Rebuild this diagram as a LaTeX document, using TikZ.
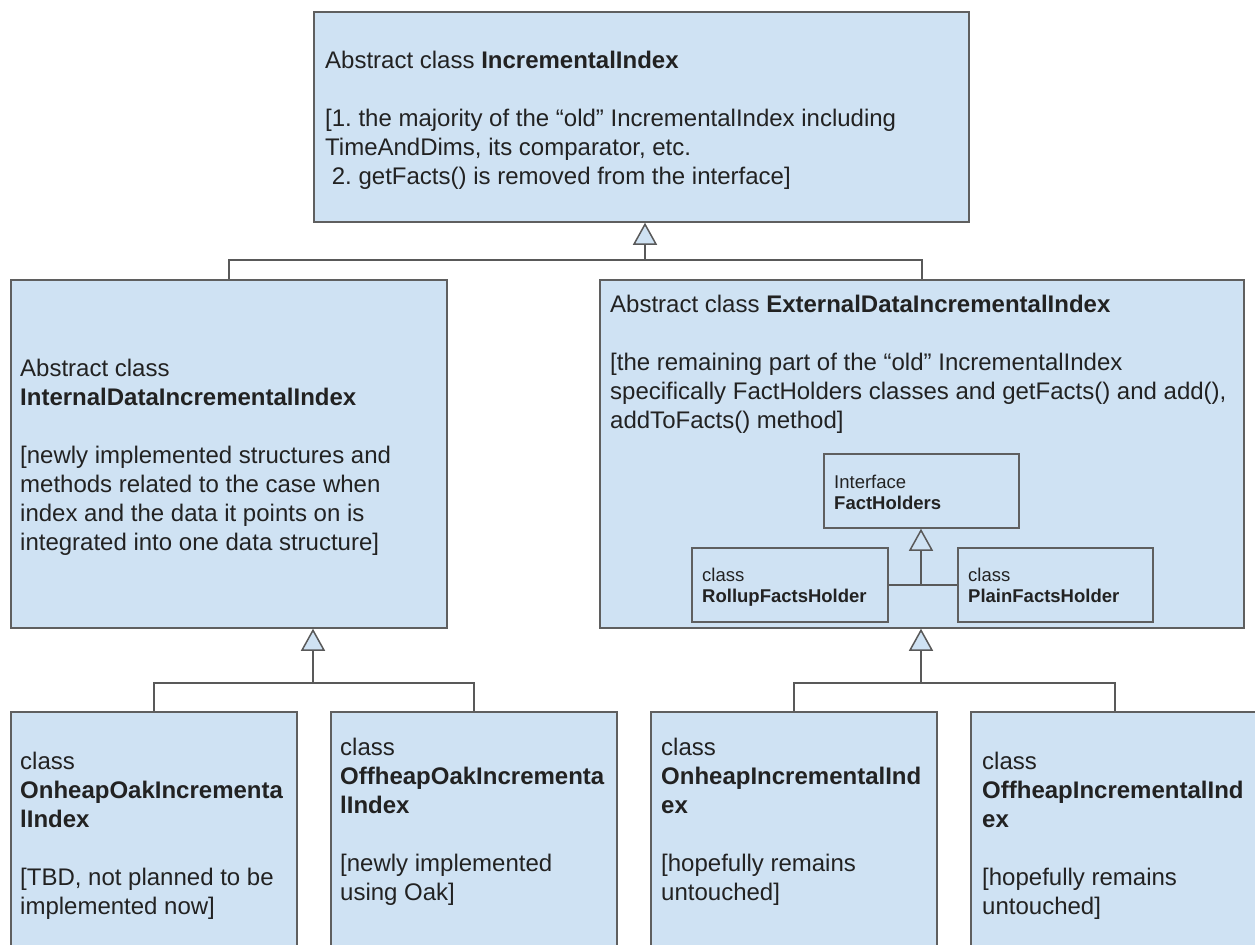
\documentclass[tikz,border=0pt]{standalone}
\usepackage{fontspec}
\setmainfont{Liberation Sans}
\usetikzlibrary{arrows.meta}
\definecolor{boxfill}{HTML}{CFE2F3}
\definecolor{boxline}{HTML}{5F5F5F}
\definecolor{connc}{HTML}{595959}
\definecolor{txtc}{HTML}{222222}
\newcommand{\firststrut}{\rule{0pt}{22bp}}
\newcommand{\smallstrut}{\rule{0pt}{17bp}}
\frenchspacing
\begin{document}
\begin{tikzpicture}[x=1bp,y=-1bp,
  box/.style={draw=boxline, fill=boxfill, line width=1.5bp, inner sep=0pt, rectangle},
  txt/.style={anchor=north west, inner sep=0pt, align=left, text=txtc, font=\fontsize{24bp}{29bp}\selectfont},
  stxt/.style={anchor=north west, inner sep=0pt, align=left, text=txtc, font=\fontsize{18.5bp}{21bp}\selectfont},
  conn/.style={draw=connc, line width=1.5bp},
  inh/.style={conn, -{Triangle[width=24bp,length=22bp,fill=boxfill]}}]
\useasboundingbox (0,0) rectangle (1255,945);
\clip (0,0) rectangle (1255,945);
% boxes
\node[box, minimum width=655bp, minimum height=210bp] (top) at (641.5,117) {};
\node[box, minimum width=436bp, minimum height=348bp] (il) at (229,454) {};
\node[box, minimum width=644bp, minimum height=348bp] (el) at (922,454) {};
\node[box, minimum width=195bp, minimum height=74bp] (fh) at (921.5,491) {};
\node[box, minimum width=196bp, minimum height=74bp] (rf) at (790,585) {};
\node[box, minimum width=195bp, minimum height=74bp] (pf) at (1055.5,585) {};
\node[box, minimum width=286bp, minimum height=268bp] (b1) at (154,846) {};
\node[box, minimum width=286bp, minimum height=268bp] (b2) at (474,846) {};
\node[box, minimum width=286bp, minimum height=268bp] (b3) at (794,846) {};
\node[box, minimum width=288bp, minimum height=268bp] (b4) at (1115,846) {};
% connectors
\coordinate (j0) at (645,260);
\coordinate (j1) at (313,683);
\coordinate (j2) at (921,683);
\coordinate (j3) at (921,585);
\draw[conn] (il.north) |- (j0) -| (el.north);
\draw[inh] (j0) -- (j0 |- top.south);
\draw[conn] (b1.north) |- (j1) -| (b2.north);
\draw[inh] (j1) -- (j1 |- il.south);
\draw[conn] (b3.north) |- (j2) -| (b4.north);
\draw[inh] (j2) -- (j2 |- el.south);
\draw[conn] (rf.east) -- (pf.west);
\draw[inh] (j3) -- (j3 |- fh.south);
% texts
\node[txt] (ttop) at (325,46) {\firststrut Abstract class \textbf{IncrementalIndex}\\ \mbox{}\\ {[}1. the majority of the “old” IncrementalIndex including\\ TimeAndDims, its comparator, etc.\\ \hspace*{6.7bp}2. getFacts() is removed from the interface]};
\node[txt] (til) at (20,354) {\firststrut Abstract class\\ \textbf{InternalDataIncrementalIndex}\\ \mbox{}\\ {[}newly implemented structures and\\ methods related to the case when\\ index and the data it points on is\\ integrated into one data structure]};
\node[txt] (tel) at (610,290) {\firststrut Abstract class \textbf{ExternalDataIncrementalIndex}\\ \mbox{}\\ {[}the remaining part of the “old” IncrementalIndex\\ specifically FactHolders classes and getFacts() and add(),\\ addToFacts() method]};
\node[stxt] (tfh) at (834,471) {\smallstrut Interface\\ \textbf{FactHolders}};
\node[stxt] (trf) at (702,564) {\smallstrut class\\ \textbf{RollupFactsHolder}};
\node[stxt] (tpf) at (968,564) {\smallstrut class\\ \textbf{PlainFactsHolder}};
\node[txt] (tb1) at (20,747) {\firststrut class\\ \textbf{OnheapOakIncrementa}\\ \textbf{lIndex}\\ \mbox{}\\ {[}TBD, not planned to be\\ implemented now]};
\node[txt] (tb2) at (340,733) {\firststrut class\\ \textbf{OffheapOakIncrementa}\\ \textbf{lIndex}\\ \mbox{}\\ {[}newly implemented\\ using Oak]};
\node[txt] (tb3) at (661,733) {\firststrut class\\ \textbf{OnheapIncrementalInd}\\ \textbf{ex}\\ \mbox{}\\ {[}hopefully remains\\ untouched]};
\node[txt] (tb4) at (982,747) {\firststrut class\\ \textbf{OffheapIncrementalInd}\\ \textbf{ex}\\ \mbox{}\\ {[}hopefully remains\\ untouched]};
\end{tikzpicture}
\end{document}
